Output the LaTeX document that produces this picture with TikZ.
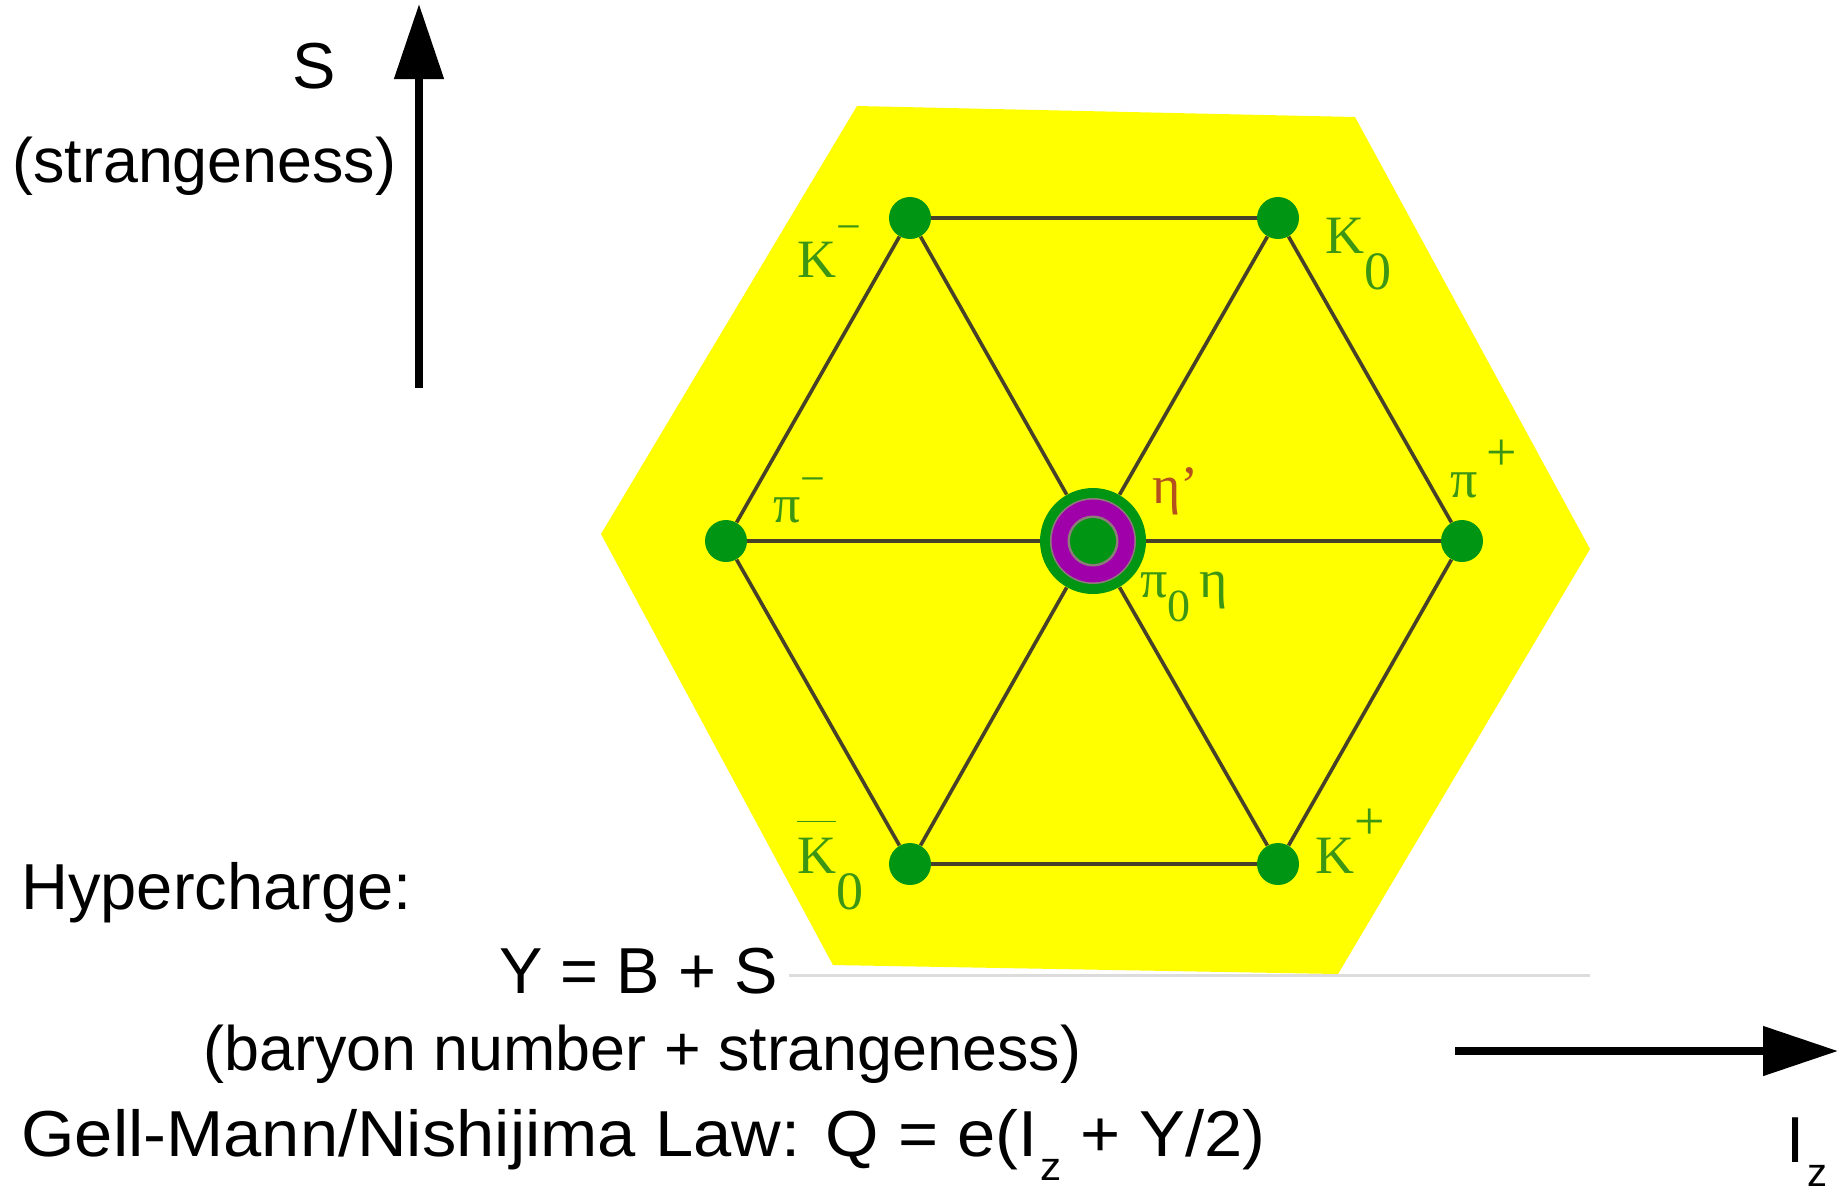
\documentclass[tikz,border=0pt]{standalone}
\usepackage{fontspec}
\setmainfont{Liberation Sans}
\newfontfamily\grkfont{Liberation Serif}
\newfontfamily\widesans[FakeStretch=1.057]{Liberation Sans}
\usetikzlibrary{arrows.meta}

\definecolor{hexyellow}{RGB}{255,255,0}
\definecolor{dotgreen}{RGB}{0,150,20}
\definecolor{lblgreen}{RGB}{60,150,20}
\definecolor{edgecol}{RGB}{70,65,40}
\definecolor{ringpurple}{RGB}{160,0,170}
\definecolor{ringgray}{RGB}{140,125,120}
\definecolor{etared}{RGB}{180,80,30}
\definecolor{basegray}{RGB}{220,220,220}

\newcommand\upmk[2][0.66em]{\raisebox{#1}{\fontsize{22}{22}\selectfont #2}}
\newcommand\plmk[2][0.62em]{\raisebox{#1}{\fontsize{27}{27}\selectfont #2}}
\newcommand\dnmk[2][-0.68em]{\raisebox{#1}{#2}}
\newcommand\lowz[1]{\kern0.04em\raisebox{-0.38em}{\fontsize{20}{20}\selectfont #1}}

\tikzset{
  meson/.style={circle, fill=dotgreen, minimum size=21pt, inner sep=0pt},
  edge/.style={draw=edgecol, line width=1.8pt},
  lbl/.style={text=lblgreen, font=\grkfont\fontsize{27}{27}\selectfont, inner sep=0pt},
  txt/.style={font=\fontsize{32.5}{38}\selectfont, inner sep=0pt},
  txtnarrow/.style={font=\fontsize{31.4}{38}\selectfont, inner sep=0pt},
  txtwide/.style={font=\widesans\fontsize{32.5}{38}\selectfont, inner sep=0pt},
  axis/.style={line width=4pt, -{Triangle[length=37.5pt,width=24pt]}}
}

\begin{document}
\begin{tikzpicture}[x=0.5pt,y=0.5pt,yscale=-1]
\useasboundingbox (0,0) rectangle (1840,1191);

% yellow hexagon and base line
\fill[hexyellow] (857,106) -- (1355,117) -- (1590,549) -- (1338,974) -- (833,965) -- (601,534) -- cycle;
\draw[basegray, line width=1.5pt] (789,975) -- (1590,975);

% mesons
\node[meson] (km) at (910,218) {};
\node[meson] (kz) at (1278,218) {};
\node[meson] (pim) at (726,541) {};
\node[meson] (pip) at (1462,541) {};
\node[meson] (kzb) at (910,864) {};
\node[meson] (kp) at (1278,864) {};
\node[circle, fill=dotgreen, minimum size=53pt, inner sep=0pt] (ctr) at (1093,541) {};
\fill[ringgray] (ctr) circle (21.5pt);
\fill[ringpurple] (ctr) circle (20.7pt);
\fill[ringgray] (ctr) circle (12.75pt);
\fill[dotgreen] (ctr) circle (11.5pt);

% octet lines
\draw[edge] (km) -- (kz);
\draw[edge] (kz) -- (pip);
\draw[edge] (pip) -- (kp);
\draw[edge] (kp) -- (kzb);
\draw[edge] (kzb) -- (pim);
\draw[edge] (pim) -- (km);
\draw[edge] (pim) -- (ctr);
\draw[edge] (ctr) -- (pip);
\draw[edge] (km) -- (ctr);
\draw[edge] (ctr) -- (kp);
\draw[edge] (kz) -- (ctr);
\draw[edge] (ctr) -- (kzb);

% particle labels
\node[lbl, anchor=base west] (lkm) at (797,277) {K\upmk{−}};
\node[lbl, anchor=base west] (lkz) at (1325,253) {K\dnmk{0}};
\node[lbl, anchor=base west] (lpim) at (773,522) {π\upmk[0.52em]{−}};
\node[lbl, anchor=base west] (lpip) at (1450,497) {π\,\plmk[0.5em]{+}};
\node[lbl, anchor=base west, text=etared] (leta) at (1152,503) {η’};
\node[lbl, anchor=base west] (lpiz) at (1140,597) {π\dnmk[-0.45em]{\fontsize{23}{23}\selectfont 0}\,η};
\node[lbl, anchor=base west] (lkzb) at (797,873) {$\overline{\hbox{\raisebox{0pt}[0.9em]{K}}}$\dnmk{0}};
\node[lbl, anchor=base west] (lkp) at (1315,873) {K\plmk{+}};

% axes
\coordinate (sfoot) at (419,388);
\coordinate (shead) at (419,4);
\draw[axis] (sfoot) -- (shead);
\coordinate (ifoot) at (1455,1051);
\coordinate (ihead) at (1838,1051);
\draw[axis] (ifoot) -- (ihead);

% texts
\node[txt, anchor=base] (slbl) at (314,88) {S};
\node[txtnarrow, anchor=base west] (sdesc) at (12,182) {(strangeness)};
\node[txt, anchor=base west] (hyp) at (21,909) {Hypercharge:};
\node[txt, anchor=base west] (yeq) at (499,993) {Y = B + S};
\node[txtnarrow, anchor=base west] (bdesc) at (203,1070) {(baryon number + strangeness)};
\node[txtwide, anchor=base west] (gmn) at (21,1156) {Gell-Mann/Nishijima Law: Q = e(I\lowz{z} + Y/2)};
\node[txt, anchor=base west] (izlbl) at (1786,1162) {I\lowz{z}};

\end{tikzpicture}
\end{document}
